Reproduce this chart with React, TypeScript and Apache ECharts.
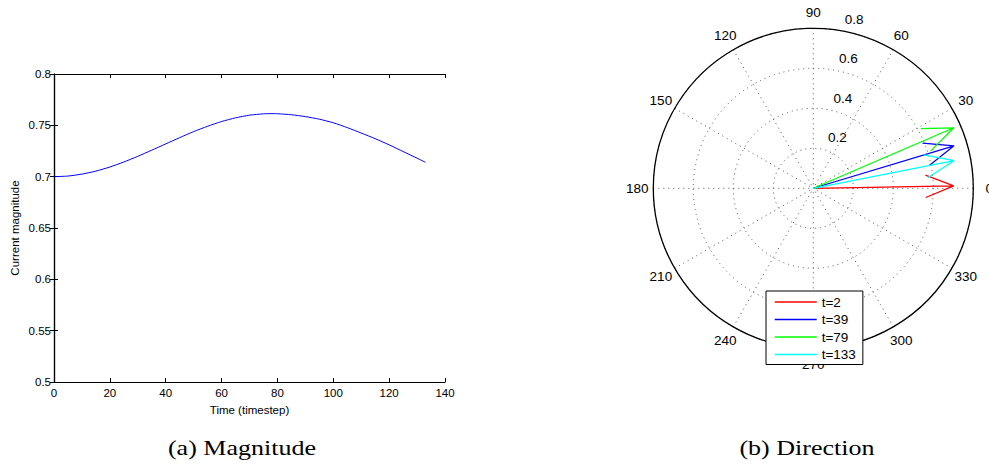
import React, { useEffect, useRef } from "react";
import * as echarts from "echarts";

// ---- Data ----
const timeSteps = [0, 5, 10, 15, 20, 25, 30, 35, 40, 45, 50, 55, 60, 65, 70, 75, 78, 80, 85, 90, 95, 100, 105, 110, 115, 120, 125, 130, 133];
const magnitudes = [0.7, 0.7006, 0.7025, 0.7054, 0.7094, 0.7143, 0.7198, 0.7258, 0.7319, 0.738, 0.7439, 0.7491, 0.7537, 0.7573, 0.7599, 0.7612, 0.7614, 0.7613, 0.7603, 0.7585, 0.756, 0.7525, 0.7478, 0.7425, 0.737, 0.731, 0.7245, 0.718, 0.714];

const arrowNames = ["t=2", "t=39", "t=79", "t=133"];
const arrowMagnitudes = [0.702, 0.735, 0.765, 0.717];
const arrowAngles = [1, 16.8, 23.3, 11.1];
const arrowColors = ["#ff0000", "#0000ff", "#00ff00", "#00ffff"];

const radiusTicks = [0.2, 0.4, 0.6, 0.8];
const angleTicks = [0, 30, 60, 90, 120, 150, 180, 210, 240, 270, 300, 330];

const captionA = "(a) Magnitude";
const captionB = "(b) Direction";

export default function App() {
  const ref = useRef<HTMLDivElement>(null);
  useEffect(() => {
    if (!ref.current) return;
    const chart = echarts.init(ref.current, null, { renderer: "svg" });

    const cx = 813.3;
    const cy = 188.3;
    const R = 160;
    const rMax = 0.8;

    const lineData = timeSteps.map((t, i) => [t, magnitudes[i]]);

    const headScale = Math.sqrt(0.8 * 0.8 + 0.08 * 0.08);
    const headAngle = (Math.atan2(0.08, 0.8) * 180) / Math.PI;
    const arrowSeries = arrowNames.map((name, i) => {
      const m = arrowMagnitudes[i];
      const a = arrowAngles[i];
      return {
        name,
        type: "line",
        coordinateSystem: "polar",
        polarIndex: 0,
        symbol: "none",
        lineStyle: { color: arrowColors[i], width: 1.2 },
        itemStyle: { color: arrowColors[i] },
        data: [
          [0, a],
          [m, a],
          [m * headScale, a + headAngle],
          [m, a],
          [m * headScale, a - headAngle],
        ],
      };
    });

    const font = "Liberation Sans";
    const dotted = { color: "#555", width: 1, type: [1, 4] as number[] };

    const radiusLabels = radiusTicks.map((v) => {
      const rho = (v / rMax) * R;
      const ang = (82 * Math.PI) / 180;
      return {
        type: "text",
        x: cx + rho * Math.cos(ang) + 18.5,
        y: cy - rho * Math.sin(ang) - 10.8,
        style: {
          text: String(v),
          fill: "#000",
          fontSize: 13.5,
          fontFamily: font,
          textAlign: "center",
          textVerticalAlign: "middle",
        },
        z: 5,
      };
    });

    const angleLabels = angleTicks.map((deg) => {
      const ang = (deg * Math.PI) / 180;
      return {
        type: "text",
        x: cx + 1.1 * R * Math.cos(ang),
        y: cy - 1.1 * R * Math.sin(ang),
        style: {
          text: String(deg),
          fill: "#000",
          fontSize: 13.5,
          fontFamily: font,
          textAlign: "center",
          textVerticalAlign: "middle",
        },
        z: 1,
      };
    });

    const captionStyle = (text: string) => ({
      text,
      fill: "#000",
      fontSize: 21,
      fontFamily: "Liberation Serif",
      textAlign: "center",
      textVerticalAlign: "middle",
    });

    const option: any = {
      animation: false,
      backgroundColor: "#fff",
      grid: { left: 54, right: 544, top: 74, bottom: 87 },
      xAxis: [
        {
          type: "value",
          min: 0,
          max: 140,
          interval: 20,
          position: "bottom",
          name: "Time (timestep)",
          nameLocation: "middle",
          nameGap: 18,
          nameTextStyle: { color: "#000", fontSize: 11.5, fontFamily: font },
          axisLine: { lineStyle: { color: "#000", width: 1.2 } },
          axisTick: { inside: true, length: 4, lineStyle: { color: "#000" } },
          axisLabel: { color: "#000", fontSize: 11.5, fontFamily: font, margin: 5 },
          splitLine: { show: false },
        },
        {
          type: "value",
          min: 0,
          max: 140,
          interval: 20,
          position: "top",
          axisLine: { lineStyle: { color: "#000", width: 1.2 } },
          axisTick: { inside: true, length: 4, lineStyle: { color: "#000" } },
          axisLabel: { show: false },
          splitLine: { show: false },
        },
      ],
      yAxis: [
        {
          type: "value",
          min: 0.5,
          max: 0.8,
          interval: 0.05,
          position: "left",
          name: "Current magnitude",
          nameLocation: "middle",
          nameGap: 33,
          nameTextStyle: { color: "#000", fontSize: 11.5, fontFamily: font },
          axisLine: { show: true, lineStyle: { color: "#000", width: 1.2 } },
          axisTick: { show: true, inside: true, length: 4, lineStyle: { color: "#000" } },
          axisLabel: { color: "#000", fontSize: 11.5, fontFamily: font, margin: 3 },
          splitLine: { show: false },
        },
        {
          type: "value",
          min: 0.5,
          max: 0.8,
          interval: 0.05,
          position: "right",
          axisLine: { show: true, lineStyle: { color: "#000", width: 1.2 } },
          axisTick: { show: true, inside: true, length: 4, lineStyle: { color: "#000" } },
          axisLabel: { show: false },
          splitLine: { show: false },
        },
      ],
      polar: [{ center: [cx, cy], radius: R }],
      angleAxis: [
        {
          polarIndex: 0,
          type: "value",
          min: 0,
          max: 360,
          interval: 30,
          startAngle: 0,
          clockwise: false,
          axisLine: { show: true, lineStyle: { color: "#000", width: 1.3 } },
          axisTick: { show: false },
          axisLabel: { show: false },
          splitLine: { show: true, lineStyle: dotted },
        },
      ],
      radiusAxis: [
        {
          polarIndex: 0,
          type: "value",
          min: 0,
          max: rMax,
          interval: 0.2,
          axisLine: { show: false },
          axisTick: { show: false },
          axisLabel: { show: false },
          splitLine: { show: true, lineStyle: dotted },
        },
      ],
      legend: {
        orient: "vertical",
        left: 766,
        top: 291,
        padding: [4, 7, 3, 8],
        itemGap: 3.5,
        itemWidth: 42,
        itemHeight: 12,
        backgroundColor: "#fff",
        borderColor: "#000",
        borderWidth: 1,
        borderRadius: 0,
        itemStyle: { opacity: 0 },
        lineStyle: { width: 1.4 },
        textStyle: { color: "#000", fontSize: 13.5, fontFamily: font },
        data: arrowNames,
        z: 10,
      },
      graphic: [
        ...angleLabels,
        ...radiusLabels,
        { type: "text", x: 242, y: 448, scaleX: 1.24, style: captionStyle(captionA) },
        { type: "text", x: 807, y: 448, scaleX: 1.24, style: captionStyle(captionB) },
      ],
      series: [
        {
          name: "magnitude",
          type: "line",
          xAxisIndex: 0,
          yAxisIndex: 0,
          symbol: "none",
          smooth: 0.2,
          lineStyle: { color: "#0000ff", width: 1 },
          data: lineData,
        },
        ...arrowSeries,
      ],
    };

    chart.setOption(option);
    return () => chart.dispose();
  }, []);

  return (
    <div
      ref={ref}
      style={{ position: "fixed", left: 0, top: 0, width: 989, height: 469 }}
    />
  );
}
